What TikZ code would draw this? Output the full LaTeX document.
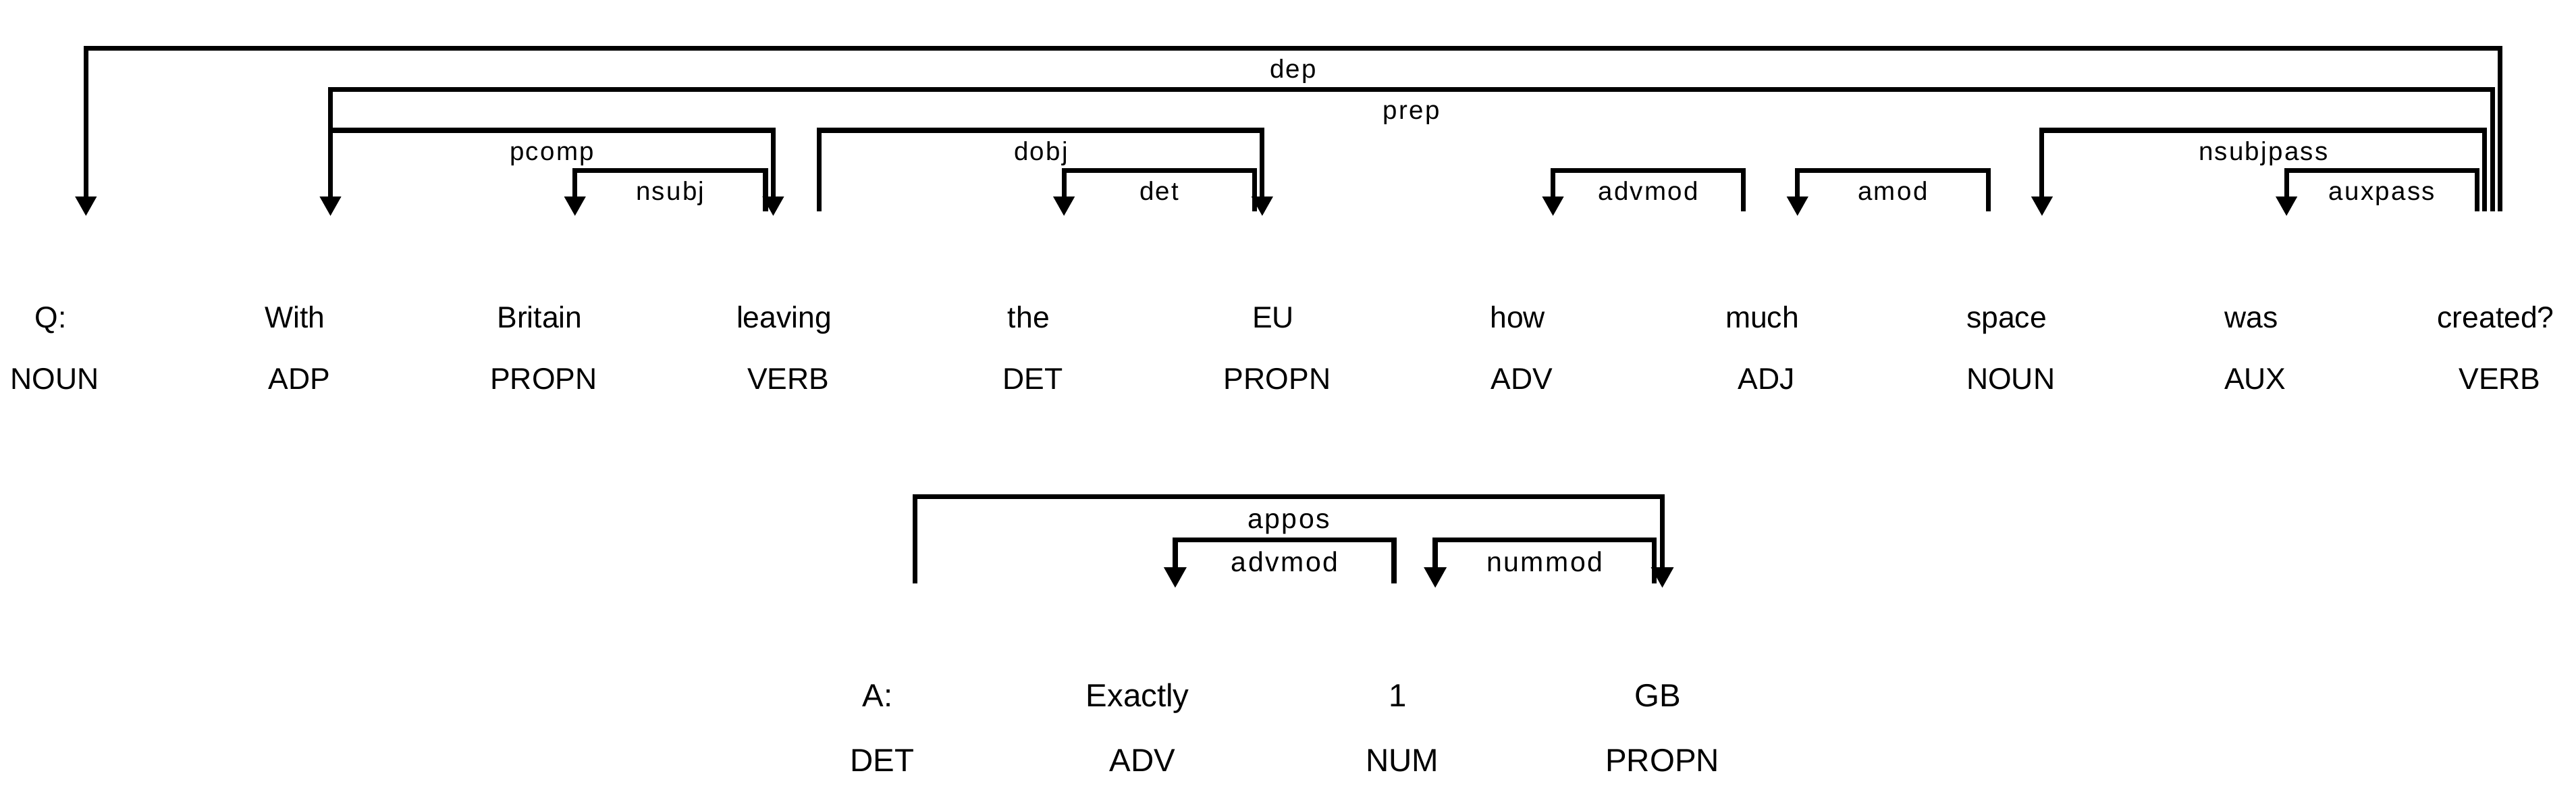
\documentclass[tikz,border=0pt]{standalone}
\usepackage{fontspec}
\setmainfont{Liberation Sans}
\newfontfamily\lblfont[LetterSpace=6]{Liberation Sans}
\usepackage{tikz}
\usetikzlibrary{arrows.meta,positioning,calc}

\begin{document}
\begin{tikzpicture}[
    word/.style={anchor=base, inner sep=0pt, font=\fontsize{12.66}{15}\selectfont},
    wordb/.style={anchor=base, inner sep=0pt, font=\fontsize{13.49}{16}\selectfont},
    lbl/.style={anchor=base, inner sep=0pt, yshift=-4.4mm, font=\lblfont\fontsize{10.95}{13}\selectfont},
    lblb/.style={anchor=base, inner sep=0pt, yshift=-4.7mm, font=\lblfont\fontsize{11.67}{14}\selectfont},
    arc/.style={line width=2pt, -{Triangle[width=3mm,length=2.9mm]}},
    arcb/.style={line width=2.07pt, -{Triangle[width=3.17mm,length=3.07mm]}}
]
    \useasboundingbox (0,0) rectangle (38.16,-12);

    % question: words and tags
    \node[word] (q) at (0.75,-4.85) {Q:};
    \node[word] (with) at (4.372,-4.85) {With};
    \node[word] (britain) at (7.994,-4.85) {Britain};
    \node[word] (leaving) at (11.616,-4.85) {leaving};
    \node[word] (the) at (15.238,-4.85) {the};
    \node[word] (eu) at (18.86,-4.85) {EU};
    \node[word] (how) at (22.482,-4.85) {how};
    \node[word] (much) at (26.104,-4.85) {much};
    \node[word] (space) at (29.726,-4.85) {space};
    \node[word] (was) at (33.348,-4.85) {was};
    \node[word] (created) at (36.97,-4.85) {created?};
    \node[word] (q-tag) at (0.81,-5.76) {NOUN};
    \node[word] (with-tag) at (4.432,-5.76) {ADP};
    \node[word] (britain-tag) at (8.054,-5.76) {PROPN};
    \node[word] (leaving-tag) at (11.676,-5.76) {VERB};
    \node[word] (the-tag) at (15.298,-5.76) {DET};
    \node[word] (eu-tag) at (18.92,-5.76) {PROPN};
    \node[word] (how-tag) at (22.542,-5.76) {ADV};
    \node[word] (much-tag) at (26.164,-5.76) {ADJ};
    \node[word] (space-tag) at (29.786,-5.76) {NOUN};
    \node[word] (was-tag) at (33.408,-5.76) {AUX};
    \node[word] (created-tag) at (37.03,-5.76) {VERB};

    % question: arc feet (h = head, d = dependent)
    \coordinate (dep-h) at (37.036,-3.127);
    \coordinate (dep-d) at (1.273,-3.2);
    \coordinate (prep-h) at (36.922,-3.127);
    \coordinate (prep-d) at (4.895,-3.2);
    \coordinate (pcomp-h) at (4.895,-3.127);
    \coordinate (pcomp-d) at (11.454,-3.2);
    \coordinate (nsubj-h) at (11.34,-3.127);
    \coordinate (nsubj-d) at (8.517,-3.2);
    \coordinate (dobj-h) at (12.139,-3.127);
    \coordinate (dobj-d) at (18.698,-3.2);
    \coordinate (det-h) at (18.584,-3.127);
    \coordinate (det-d) at (15.761,-3.2);
    \coordinate (advmod-h) at (25.828,-3.127);
    \coordinate (advmod-d) at (23.005,-3.2);
    \coordinate (amod-h) at (29.45,-3.127);
    \coordinate (amod-d) at (26.627,-3.2);
    \coordinate (nsubjpass-h) at (36.808,-3.127);
    \coordinate (nsubjpass-d) at (30.249,-3.2);
    \coordinate (auxpass-h) at (36.694,-3.127);
    \coordinate (auxpass-d) at (33.871,-3.2);

    \draw[arc] (dep-h) -- ++(0,2.41) -| node[lbl,pos=0.25] {dep} (dep-d);
    \draw[arc] (prep-h) -- ++(0,1.804) -| node[lbl,pos=0.25] {prep} (prep-d);
    \draw[arc] (pcomp-h) -- ++(0,1.197) -| node[lbl,pos=0.25] {pcomp} (pcomp-d);
    \draw[arc] (nsubj-h) -- ++(0,0.6) -| node[lbl,pos=0.25] {nsubj} (nsubj-d);
    \draw[arc] (dobj-h) -- ++(0,1.197) -| node[lbl,pos=0.25] {dobj} (dobj-d);
    \draw[arc] (det-h) -- ++(0,0.6) -| node[lbl,pos=0.25] {det} (det-d);
    \draw[arc] (advmod-h) -- ++(0,0.6) -| node[lbl,pos=0.25] {advmod} (advmod-d);
    \draw[arc] (amod-h) -- ++(0,0.6) -| node[lbl,pos=0.25] {amod} (amod-d);
    \draw[arc] (nsubjpass-h) -- ++(0,1.197) -| node[lbl,pos=0.25] {nsubjpass} (nsubjpass-d);
    \draw[arc] (auxpass-h) -- ++(0,0.6) -| node[lbl,pos=0.25] {auxpass} (auxpass-d);

    % answer: words and tags
    \node[wordb] (a) at (13.00,-10.46) {A:};
    \node[wordb] (exactly) at (16.852,-10.46) {Exactly};
    \node[wordb] (one) at (20.704,-10.46) {1};
    \node[wordb] (gb) at (24.556,-10.46) {GB};
    \node[wordb] (a-tag) at (13.07,-11.427) {DET};
    \node[wordb] (exactly-tag) at (16.922,-11.427) {ADV};
    \node[wordb] (one-tag) at (20.774,-11.427) {NUM};
    \node[wordb] (gb-tag) at (24.626,-11.427) {PROPN};

    % answer: arc feet
    \coordinate (appos-h) at (13.557,-8.64);
    \coordinate (appos-d) at (24.625,-8.707);
    \coordinate (advmodb-h) at (20.651,-8.64);
    \coordinate (advmodb-d) at (17.409,-8.707);
    \coordinate (nummod-h) at (24.503,-8.64);
    \coordinate (nummod-d) at (21.261,-8.707);

    \draw[arcb] (appos-h) -- ++(0,1.283) -| node[lblb,pos=0.25] {appos} (appos-d);
    \draw[arcb] (advmodb-h) -- ++(0,0.645) -| node[lblb,pos=0.25] {advmod} (advmodb-d);
    \draw[arcb] (nummod-h) -- ++(0,0.645) -| node[lblb,pos=0.25] {nummod} (nummod-d);
\end{tikzpicture}
\end{document}
